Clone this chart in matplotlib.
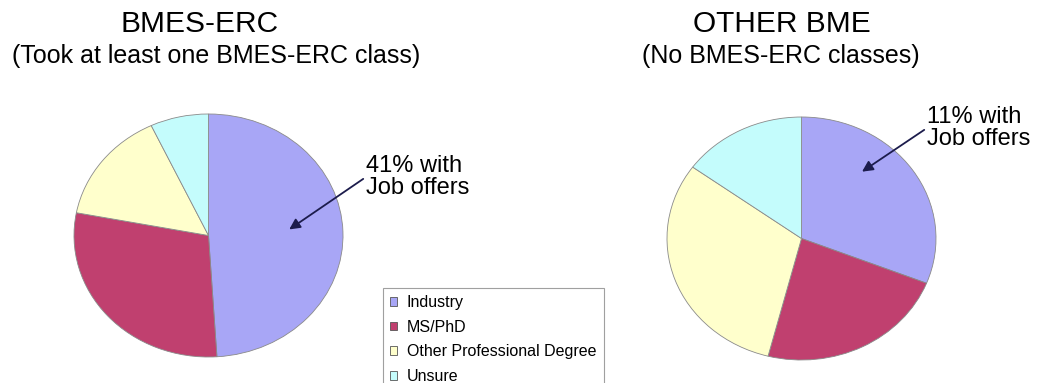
import matplotlib
matplotlib.use("Agg")
import matplotlib.pyplot as plt
from matplotlib.patches import Patch

plt.rcParams['font.family'] = ['Liberation Sans', 'DejaVu Sans']

categories = ["Industry", "MS/PhD", "Other Professional Degree", "Unsure"]
bmes_erc = [49, 29, 15, 7]
other_bme = [31, 23, 31, 15]
colors = ["#A8A6F6", "#C0406F", "#FFFFCC", "#C4FCFC"]

titles = ["BMES-ERC", "OTHER BME"]
subtitles = ["(Took at least one BMES-ERC class)", "(No BMES-ERC classes)"]
notes = ["41% with\nJob offers", "11% with\nJob offers"]

W, H = 1043, 383
fig = plt.figure(figsize=(W / 100, H / 100), dpi=100)

def fx(px):
    return px / W

def fy(py):
    return 1 - py / H

def pie_axes(x0, y0, x1, y1):
    return fig.add_axes([fx(x0), fy(y1), fx(x1 - x0), (y1 - y0) / H])

ax1 = pie_axes(74, 114, 343, 357)
ax2 = pie_axes(667, 117, 936, 360)

for ax, vals in [(ax1, bmes_erc), (ax2, other_bme)]:
    ax.pie(vals, colors=colors, startangle=90, counterclock=False,
           wedgeprops=dict(edgecolor="#8a8a8a", linewidth=0.6))
    ax.set_aspect('auto')
    ax.set_xlim(-1.0, 1.0)
    ax.set_ylim(-1.0, 1.0)
    ax.axis('off')

# titles
fig.text(fx(200), fy(24), titles[0], fontsize=21.5, ha='center', va='center')
fig.text(fx(782), fy(24), titles[1], fontsize=21.5, ha='center', va='center')
fig.text(fx(216), fy(56), subtitles[0], fontsize=18, ha='center', va='center')
fig.text(fx(781), fy(56), subtitles[1], fontsize=18, ha='center', va='center')

# annotations (arrow targets in pie data coords)
ax1.annotate(notes[0], xy=(0.60, 0.05), xycoords='data',
             xytext=(fx(366), fy(177)), textcoords='figure fraction',
             fontsize=17, ha='left', va='center', linespacing=1.0,
             arrowprops=dict(arrowstyle='-|>', color='#1c1c4c', lw=1.3,
                             shrinkA=0, shrinkB=0, mutation_scale=16,
                             relpos=(0, 0.5)),
             annotation_clip=False)
ax2.annotate(notes[1], xy=(0.45, 0.55), xycoords='data',
             xytext=(fx(927), fy(128)), textcoords='figure fraction',
             fontsize=17, ha='left', va='center', linespacing=1.0,
             arrowprops=dict(arrowstyle='-|>', color='#1c1c4c', lw=1.3,
                             shrinkA=0, shrinkB=0, mutation_scale=16,
                             relpos=(0, 0.5)),
             annotation_clip=False)

handles = [Patch(facecolor=c, edgecolor='#555555', linewidth=0.6) for c in colors]
leg = fig.legend(handles, categories, loc='upper left',
                 bbox_to_anchor=(fx(383), fy(288)), borderaxespad=0,
                 fontsize=11.5, frameon=True, fancybox=False,
                 handlelength=0.45, handleheight=0.45, handletextpad=0.6,
                 labelspacing=0.6, borderpad=0.45)
leg.get_frame().set_edgecolor('#888888')
leg.get_frame().set_linewidth(0.8)

fig.savefig("out.png", dpi=100)
